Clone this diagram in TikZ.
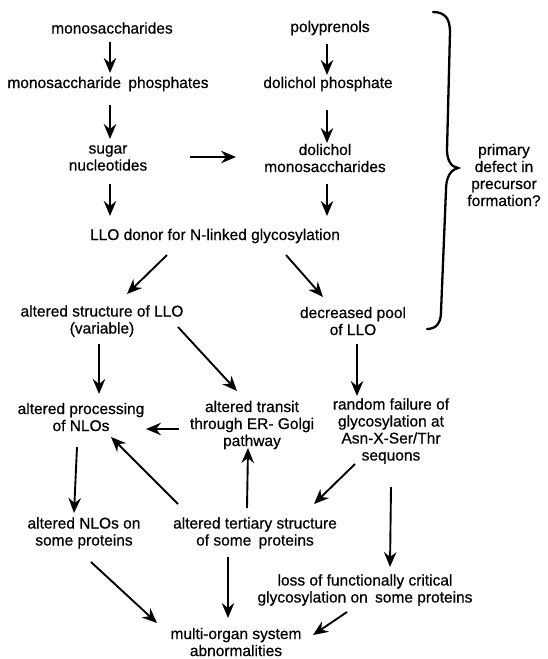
\documentclass[tikz,border=0pt]{standalone}
\usepackage{fontspec}
\setmainfont{Liberation Sans}[FakeBold=0.6]
\usetikzlibrary{arrows.meta,calc}
\begin{document}
\begin{tikzpicture}[x=1pt,y=-1pt,
  txt/.style={align=center, inner sep=0pt, font=\fontsize{15.5}{17}\selectfont},
  arr/.style={line width=1.9pt, -{Stealth[length=15pt,width=12.5pt,inset=5pt]}},
  bracepath/.style={line width=2.3pt, line cap=round}]
\useasboundingbox (0,0) rectangle (547,659);
% nodes
\node[txt] (mono)  at (112,28)  {monosaccharides};
\node[txt] (poly)  at (330,28)  {polyprenols};
\node[txt] (monop) at (108,84)  {monosaccharide\hspace{3pt} phosphates};
\node[txt] (dolp)  at (328,84)  {dolichol phosphate};
\node[txt] (sugar) at (108,158) {sugar\\nucleotides};
\node[txt] (dolm)  at (325,158) {dolichol\\monosaccharides};
\node[txt] (llo)   at (215,236) {LLO donor for N-linked glycosylation};
\node[txt] (alt)   at (102,321) {altered structure of LLO\\(variable)};
\node[txt] (dec)   at (353,321) {decreased pool\\of LLO};
\node[txt] (proc)  at (81,417)  {altered processing\\of NLOs};
\node[txt] (trans) at (252,425) {altered transit\\through ER- Golgi\\pathway};
\node[txt] (rand)  at (391,431) {random failure of\\glycosylation at\\Asn-X-Ser/Thr\\sequons};
\node[txt] (nlos)  at (84,533)  {altered NLOs on\\some proteins};
\node[txt] (tert)  at (255,533) {altered tertiary structure\\of some\hspace{3pt} proteins};
\node[txt] (loss)  at (365,590) {loss of functionally critical\\glycosylation on\hspace{3pt} some proteins};
\node[txt] (multi) at (236,642) {multi-organ system\\abnormalities};
\node[txt] (defect) at (504,175) {primary\\defect in\\precursor\\formation?};
% brace
\draw[bracepath] (433,12) .. controls (446,12) and (450,20) .. (450,32)
  -- (447,150) .. controls (447,160) and (451,167) .. (458,168)
  .. controls (450,170) and (446,178) .. (446,190)
  -- (441,312) .. controls (441,323) and (436,329) .. (427,329);
% arrows
\draw[arr] ($(mono)+(-2,14)$) -- ($(monop)+(2,-11)$);
\draw[arr] ($(monop)+(2,21)$) -- ($(sugar)+(2,-19)$);
\draw[arr] ($(sugar)+(2,26)$) -- ($(llo)+(-105,-20)$);
\draw[arr] ($(poly)+(-3,16)$) -- ($(dolp)+(-1,-9)$);
\draw[arr] ($(dolp)+(-1,26)$) -- ($(dolm)+(2,-15)$);
\draw[arr] ($(dolm)+(2,26)$) -- ($(llo)+(112,-20)$);
\draw[arr] ($(sugar)+(82,-1)$) -- ($(dolm)+(-89,-1)$);
\draw[arr] ($(llo)+(-48,19)$) -- ($(alt)+(25,-27)$);
\draw[arr] ($(llo)+(71,19)$) -- ($(dec)+(-30,-24)$);
\draw[arr] ($(alt)+(-3,23)$) -- ($(proc)+(18,-23)$);
\draw[arr] ($(alt)+(76,6)$) -- ($(trans)+(-15,-34)$);
\draw[arr] ($(dec)+(4,23)$) -- ($(rand)+(-34,-35)$);
\draw[arr] ($(trans)+(-73,4)$) -- ($(proc)+(65,12)$);
\draw[arr] ($(proc)+(-4,30)$) -- ($(nlos)+(-10,-20)$);
\draw[arr] ($(tert)+(-77,-29)$) -- ($(proc)+(30,20)$);
\draw[arr] ($(tert)+(-8,-25)$) -- ($(trans)+(-4,23)$);
\draw[arr] ($(rand)+(-36,33)$) -- ($(tert)+(59,-29)$);
\draw[arr] ($(rand)+(0,56)$) -- ($(loss)+(25,-23)$);
\draw[arr] ($(nlos)+(7,29)$) -- ($(multi)+(-79,-19)$);
\draw[arr] ($(tert)+(-27,24)$) -- ($(multi)+(-8,-24)$);
\draw[arr] ($(loss)+(-18,22)$) -- ($(multi)+(77,-7)$);
\end{tikzpicture}
\end{document}
